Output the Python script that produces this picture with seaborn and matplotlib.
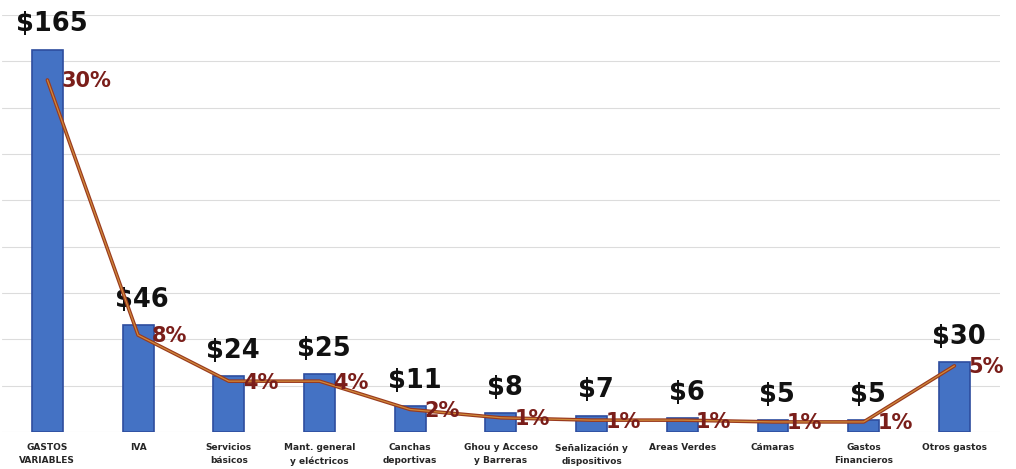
import numpy as np
import pandas as pd
import matplotlib
matplotlib.use("Agg")
import matplotlib.pyplot as plt
import seaborn as sns

categories = ["GASTOS\nVARIABLES", "IVA", "Servicios\nbásicos", "Mant. general\ny eléctricos",
              "Canchas\ndeportivas", "Ghou y Acceso\ny Barreras", "Señalización y\ndispositivos",
              "Areas Verdes", "Cámaras", "Gastos\nFinancieros", "Otros gastos"]
amounts = [165, 46, 24, 25, 11, 8, 7, 6, 5, 5, 30]
amount_labels = ["$165", "$46", "$24", "$25", "$11", "$8", "$7", "$6", "$5", "$5", "$30"]
shares = [29.8, 8.2, 4.3, 4.3, 1.9, 1.2, 1.0, 1.0, 0.85, 0.85, 5.6]
share_labels = ["30%", "8%", "4%", "4%", "2%", "1%", "1%", "1%", "1%", "1%", "5%"]

sns.set_theme(style="white")
plt.rcParams["font.family"] = ["DejaVu Sans"]

df = pd.DataFrame({"cat": categories, "amount": amounts})

fig = plt.figure(figsize=(10.16, 4.69), dpi=100)
ax = fig.add_axes([0.002, 0.079, 0.982, 0.889])

sns.barplot(data=df, x="cat", y="amount", color="#4472C4", width=0.34,
            edgecolor="#2E4D9E", linewidth=1.2, saturation=1, ax=ax)
ax.set_ylim(0, 180)
ax.set_yticks(np.arange(0, 181, 20))
ax.yaxis.grid(True, color="#dcdcdc", linewidth=0.8)
ax.set_axisbelow(True)
ax.set_yticklabels([])
ax.set_xlabel("")
ax.set_ylabel("")
ax.tick_params(axis="x", length=0, pad=8)
ax.tick_params(axis="y", length=0)
ax.set_xticks(range(len(categories)))
ax.set_xticklabels(categories, fontsize=6.5, fontweight="bold", linespacing=1.6)
for s in ax.spines.values():
    s.set_visible(False)

for i, (v, lab) in enumerate(zip(amounts, amount_labels)):
    ax.annotate(lab, (i, v), xytext=(3, 9), textcoords="offset points",
                ha="center", va="bottom", fontsize=18.5, fontweight="heavy", color="#111111")

ax2 = ax.twinx()
x = np.arange(len(categories))
sns.lineplot(x=x, y=shares, color="#9A3A1E", linewidth=2.6, ax=ax2, sort=False)
sns.lineplot(x=x, y=shares, color="#D08A3A", linewidth=0.9, ax=ax2, sort=False)
ax2.set_ylim(0, 35.3)
ax2.set_yticks([])
ax2.set_ylabel("")
for s in ax2.spines.values():
    s.set_visible(False)
for i, (v, lab) in enumerate(zip(shares, share_labels)):
    ax2.annotate(lab, (i, v), xytext=(10, -1), textcoords="offset points",
                 ha="left", va="center", fontsize=15, fontweight="bold", color="#7A1E1A")

ax.set_xlim(-0.5, len(categories) - 0.5)
ax2.set_xlim(-0.5, len(categories) - 0.5)

fig.savefig("out.png", dpi=100, facecolor="white")
